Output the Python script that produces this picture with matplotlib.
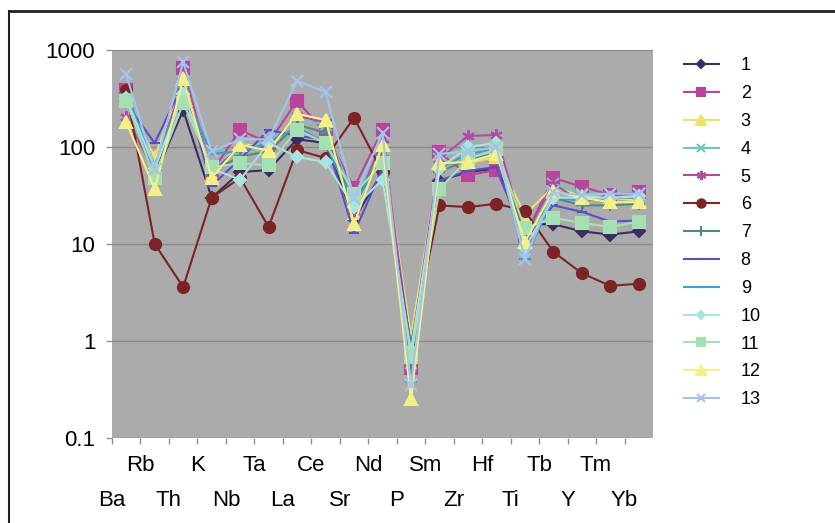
import numpy as np
import matplotlib
matplotlib.use("Agg")
import matplotlib.pyplot as plt
from matplotlib.lines import Line2D
from matplotlib.ticker import FixedLocator, NullLocator, FixedFormatter

elements = ["Ba", "Rb", "Th", "K", "Nb", "Ta", "La", "Ce", "Sr", "Nd", "P",
            "Sm", "Zr", "Hf", "Ti", "Tb", "Y", "Tm", "Yb"]

s1 = [300, 50, 240, 30, 55, 58, 120, 110, 18, 55, 0.8, 45, 55, 60, 16, 16, 13.5, 12.5, 13.5]
s2 = [390, 50, 650, 55, 150, 110, 300, 140, 38, 150, 0.53, 89, 51, 58, 12, 48, 39, 32, 34]
s3 = [310, 78, 520, 52, 110, 95, 215, 185, 21, 108, 1.08, 70, 68, 79, 20, 39, 31, 30, 28]
s4 = [330, 60, 450, 60, 95, 115, 190, 170, 28, 110, 0.6, 75, 100, 110, 9, 42, 33, 33, 33]
s5 = [205, 55, 480, 55, 100, 100, 210, 180, 22, 120, 0.8, 75, 130, 133, 12, 42, 27, 32, 33]
s6 = [385, 10, 3.6, 30, 48, 15, 93, 77, 200, 55, 0.9, 25, 24, 26, 22, 8.3, 5, 3.7, 3.9]
s7 = [300, 55, 400, 55, 80, 90, 170, 140, 25, 90, 0.6, 55, 75, 85, 12, 30, 25, 25, 26]
s8 = [280, 110, 450, 40, 75, 150, 130, 120, 13, 60, 0.9, 45, 57, 62, 11, 25, 21.5, 17, 17.5]
s9 = [350, 65, 380, 85, 90, 110, 160, 110, 25, 80, 0.38, 60, 85, 95, 7, 30, 28, 30, 30]
s10 = [320, 60, 350, 60, 46, 110, 79, 70, 24, 46, 0.8, 60, 100, 110, 9, 30, 30, 30, 31]
s11 = [300, 48, 285, 62, 68, 65, 150, 110, 33, 68, 0.68, 37, 75, 95, 14.5, 18.6, 16.5, 15, 17]
s12 = [180, 37, 500, 48, 105, 92, 220, 190, 16, 105, 0.25, 68, 70, 85, 10.5, 35, 30, 27, 27]
s13 = [560, 60, 750, 90, 120, 120, 480, 370, 30, 140, 0.35, 85, 90, 100, 7, 34, 32, 33, 33]

series = [s1, s2, s3, s4, s5, s6, s7, s8, s9, s10, s11, s12, s13]
names = [str(i) for i in range(1, 14)]

y_ticks = [0.1, 1, 10, 100, 1000]
y_labels = ["0.1", "1", "10", "100", "1000"]

colors = ['#3b2d5e', '#b8449c', '#ece46a', '#6ec8bc', '#b04ca8', '#7c2424',
          '#4f8a80', '#5a4fc8', '#3aa0d0', '#a8e4e0', '#a4e0b4', '#f4f088', '#a4c4ec']
markers = ['D', 's', '^', 'x', (6, 2, 0), 'o', '+', '_', '_', 'D', 's', '^', 'x']
msizes = [6, 8, 9, 8, 9, 8, 9, 7, 8, 6, 8, 9, 8]

plt.rcParams['font.family'] = ['Liberation Sans', 'DejaVu Sans']

fig = plt.figure(figsize=(8.35, 5.23), dpi=100)
fig.patch.set_facecolor('white')
ax = fig.add_axes([112/835, 1-438/523, (653-112)/835, (438-50)/523])
ax.set_facecolor('#ababab')

x = np.arange(len(elements))
for vals, c, m, ms, nm in zip(series, colors, markers, msizes, names):
    ax.plot(x, vals, color=c, lw=1.5, marker=m, ms=ms, mfc=c, mec=c,
            mew=1.5, label=nm)

ax.set_yscale('log')
ax.set_ylim(0.1, 1000)
ax.set_xlim(-0.5, len(elements) - 0.5)
ax.yaxis.set_major_locator(FixedLocator(y_ticks))
ax.yaxis.set_major_formatter(FixedFormatter(y_labels))
ax.yaxis.set_minor_locator(NullLocator())
ax.grid(axis='y', color='#8a8a8a', lw=1)
ax.set_axisbelow(True)

ax.set_xticks(x - 0.5)
ax.set_xticklabels(elements)
ax.tick_params(axis='both', labelsize=16, color='#909090', length=4, width=1)
ax.tick_params(axis='y', pad=8)
for i, t in enumerate(ax.xaxis.get_major_ticks()):
    t.set_pad(8 if i % 2 == 1 else 33.5)

for s in ax.spines.values():
    s.set_visible(False)

leg = ax.legend(loc='upper left', bbox_to_anchor=(1.027, 1.023), frameon=False,
                fontsize=13, handlelength=1.95, labelspacing=0.6,
                handletextpad=1.2, markerscale=0.75)

fig.add_artist(Line2D([9/835, 1], [1-11/523, 1-11/523], color='#202020', lw=2))
fig.add_artist(Line2D([9/835, 9/835], [0, 1-11/523], color='#202020', lw=1.5))

fig.savefig('out.png', dpi=100, facecolor='white')
